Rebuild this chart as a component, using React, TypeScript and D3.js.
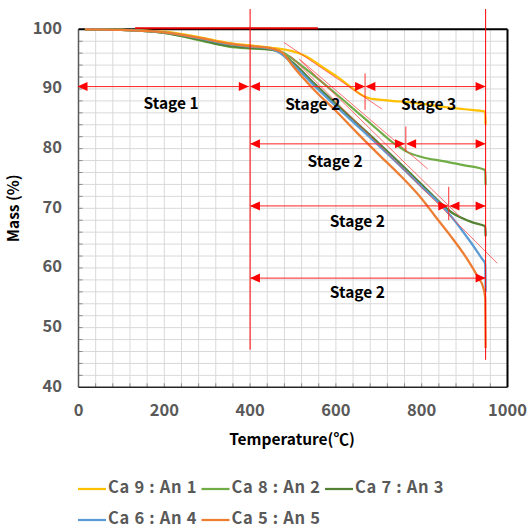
import React from "react";
import * as d3 from "d3";

// ---- data (temperature °C, mass %) ----
const ca9an1: [number, number][] = [
  [15, 100], [100, 99.9], [200, 99.6], [280, 98.7], [350, 97.7], [400, 97.3], [450, 96.9], [480, 96.6],
  [500, 96.3], [530, 95.5], [570, 93.6], [610, 91.7], [640, 90.0], [660, 89.0], [680, 88.4], [700, 88.2],
  [750, 87.9], [800, 87.5], [850, 87.0], [900, 86.6], [948, 86.2], [949, 84.0],
];
const ca8an2: [number, number][] = [
  [15, 100], [100, 99.9], [200, 99.4], [280, 98.2], [350, 97.1], [400, 96.8], [450, 96.6], [480, 96.0],
  [500, 95.0], [550, 92.2], [600, 89.2], [650, 86.1], [700, 83.0], [726, 81.4], [750, 80.2], [765, 79.5],
  [800, 78.6], [850, 77.9], [900, 77.2], [948, 76.4], [949, 73.9],
];
const ca7an3: [number, number][] = [
  [15, 100], [100, 99.9], [200, 99.4], [280, 98.3], [350, 97.2], [400, 96.9], [450, 96.6], [470, 96.1],
  [500, 94.4], [550, 90.9], [600, 87.5], [650, 84.2], [700, 80.9], [750, 77.5], [800, 74.0], [850, 70.5],
  [870, 69.3], [890, 68.5], [920, 67.6], [948, 67.0], [949, 65.3],
];
const ca6an4: [number, number][] = [
  [15, 100], [100, 99.9], [200, 99.5], [280, 98.5], [350, 97.5], [400, 97.1], [450, 96.7], [470, 96.0],
  [500, 94.1], [550, 90.5], [600, 87.1], [650, 83.8], [700, 80.5], [750, 77.1], [800, 73.6], [850, 70.2],
  [893, 66.4], [940, 61.6], [948, 60.7], [949, 56.0],
];
const ca5an5: [number, number][] = [
  [15, 100], [100, 99.9], [200, 99.5], [280, 98.6], [350, 97.6], [400, 97.2], [450, 96.8], [475, 96.1],
  [500, 93.8], [550, 89.8], [600, 86.3], [650, 82.6], [700, 79.0], [750, 75.5], [800, 71.6], [830, 68.8],
  [866, 65.5], [905, 61.6], [930, 58.6], [944, 56.6], [948, 55.0], [949, 46.6],
];

const seriesNames = ["Ca 9 : An 1", "Ca 8 : An 2", "Ca 7 : An 3", "Ca 6 : An 4", "Ca 5 : An 5"];
const seriesColors = ["#FFC000", "#70AD47", "#548235", "#5B9BD5", "#ED7D31"];
const seriesData = [ca9an1, ca8an2, ca7an3, ca6an4, ca5an5];

const xTicks = [0, 200, 400, 600, 800, 1000];
const yTicks = [40, 50, 60, 70, 80, 90, 100];

// stage annotation rows: mass level and arrow segments [from, to]
const stageRows: { m: number; segs: [number, number][] }[] = [
  { m: 90.4, segs: [[0, 397], [402, 668], [671, 949]] },
  { m: 80.8, segs: [[402, 761], [766, 949]] },
  { m: 70.4, segs: [[402, 862], [867, 949]] },
  { m: 58.3, segs: [[402, 949]] },
];
const stageLabels: { t: number; m: number; text: string }[] = [
  { t: 216, m: 87.4, text: "Stage 1" },
  { t: 546, m: 87.2, text: "Stage 2" },
  { t: 816, m: 87.2, text: "Stage 3" },
  { t: 598, m: 77.7, text: "Stage 2" },
  { t: 650, m: 67.5, text: "Stage 2" },
  { t: 650, m: 55.6, text: "Stage 2" },
];
const stageTicks: [number, number, number][] = [
  [668, 92.6, 86.5],
  [763, 83.7, 79.5],
  [863, 73.6, 68.0],
];
const tangents: [number, number, number, number][] = [
  [479, 97.8, 708, 86.6],
  [515, 95.0, 814, 76.6],
  [493, 95.6, 976, 60.8],
  [515, 94.9, 889, 68.6],
];
const boundaryLines: [number, number, number][] = [
  [400, 103.4, 46.3],
  [949, 103.4, 44.6],
];

const W = 529;
const H = 530;

export default function App() {
  const x = d3.scaleLinear().domain([0, 1000]).range([78.5, 507.5]);
  const y = d3.scaleLinear().domain([40, 100]).range([387.3, 29.3]);
  const line = d3
    .line<[number, number]>()
    .x((d) => x(d[0]))
    .y((d) => y(d[1]))
    .curve(d3.curveMonotoneX);

  const vGrid = d3.range(40, 1000, 40);
  const hGrid = d3.range(42, 100, 2);
  const font = "'Noto Sans CJK KR', 'Noto Sans', sans-serif";
  const red = "#FF0000";

  const arrowHead = (tip: number, yy: number, dir: number) => {
    const L = 10, h = 4.5;
    return `M${tip},${yy} L${tip - dir * L},${yy - h} L${tip - dir * L},${yy + h} Z`;
  };

  return (
    <div style={{ position: "absolute", left: 0, top: 0 }}>
      <svg width={W} height={H} style={{ display: "block", background: "#fff" }}>
        {/* grid */}
        {vGrid.map((t) => (
          <line key={"v" + t} x1={x(t)} x2={x(t)} y1={y(100)} y2={y(40)} stroke="#d9d9d9" strokeWidth={1} />
        ))}
        {hGrid.map((m) => (
          <line key={"h" + m} x1={x(0)} x2={x(1000)} y1={y(m)} y2={y(m)} stroke="#d9d9d9" strokeWidth={1} />
        ))}
        {/* minor ticks */}
        {hGrid.map((m) => (
          <line key={"yt" + m} x1={x(0)} x2={x(0) + 4} y1={y(m)} y2={y(m)} stroke="#8c8c8c" strokeWidth={1} />
        ))}
        {vGrid.map((t) => (
          <line key={"xt" + t} x1={x(t)} x2={x(t)} y1={y(40)} y2={y(40) - 4} stroke="#8c8c8c" strokeWidth={1} />
        ))}
        {/* frame */}
        <line x1={x(0)} x2={x(0)} y1={y(100)} y2={y(40)} stroke="#595959" strokeWidth={1.5} />
        <line x1={x(0)} x2={x(1000)} y1={y(40)} y2={y(40)} stroke="#262626" strokeWidth={1.5} />
        <line x1={x(0)} x2={x(1000)} y1={y(100)} y2={y(100)} stroke="#000" strokeWidth={2} />
        <line x1={x(1000)} x2={x(1000)} y1={y(100)} y2={y(40)} stroke="#000" strokeWidth={2} />
        {/* stray red line at top */}
        <line x1={x(132)} x2={x(558)} y1={y(100) - 1} y2={y(100) - 1} stroke="#E00000" strokeWidth={2} />

        {/* series */}
        {seriesData.map((d, i) => (
          <path key={seriesNames[i]} d={line(d) || ""} fill="none" stroke={seriesColors[i]} strokeWidth={2.25} />
        ))}

        {/* tangents */}
        {tangents.map((t, i) => (
          <line key={"tg" + i} x1={x(t[0])} y1={y(t[1])} x2={x(t[2])} y2={y(t[3])} stroke="#FF4040" strokeOpacity={0.75} strokeWidth={1} />
        ))}

        {/* boundary lines */}
        {boundaryLines.map((b, i) => (
          <line key={"b" + i} x1={x(b[0])} x2={x(b[0])} y1={y(b[1])} y2={y(b[2])} stroke={red} strokeWidth={1} />
        ))}
        {stageTicks.map((s, i) => (
          <line key={"st" + i} x1={x(s[0])} x2={x(s[0])} y1={y(s[1])} y2={y(s[2])} stroke="#FF3030" strokeWidth={1} />
        ))}

        {/* arrows */}
        {stageRows.map((r, i) => (
          <g key={"r" + i}>
            {r.segs.map((s, j) => {
              const yy = y(r.m);
              const a = x(s[0]);
              const b = x(s[1]);
              return (
                <g key={j}>
                  <line x1={a} x2={b} y1={yy} y2={yy} stroke="#FF2020" strokeWidth={1} />
                  <path d={arrowHead(a - 1, yy, -1)} fill={red} />
                  <path d={arrowHead(b, yy, 1)} fill={red} />
                </g>
              );
            })}
          </g>
        ))}

        {/* stage labels */}
        {stageLabels.map((s, i) => (
          <text key={"sl" + i} x={x(s.t)} y={y(s.m)} textAnchor="middle" dominantBaseline="middle"
            fontFamily={font} fontWeight="bold" fontSize={15.5} fill="#000">
            {s.text}
          </text>
        ))}

        {/* tick labels */}
        {yTicks.map((m) => (
          <text key={"yl" + m} x={62} y={y(m)} textAnchor="end" dominantBaseline="middle"
            fontFamily={font} fontWeight="bold" fontSize={16.5} fill="#595959">
            {m}
          </text>
        ))}
        {xTicks.map((t) => (
          <text key={"xl" + t} x={x(t)} y={412} textAnchor="middle" dominantBaseline="middle"
            fontFamily={font} fontWeight="bold" fontSize={16.5} fill="#595959">
            {t}
          </text>
        ))}

        {/* axis titles */}
        <text x={292} y={441} textAnchor="middle" dominantBaseline="middle" fontFamily={font}
          fontWeight="bold" fontSize={15.5} fill="#000">
          Temperature(℃)
        </text>
        <text transform={`translate(15,${(y(100) + y(40)) / 2}) rotate(-90)`} textAnchor="middle"
          dominantBaseline="middle" fontFamily={font} fontWeight="bold" fontSize={15.5} fill="#000">
          Mass (%)
        </text>

        {/* legend */}
        {seriesNames.map((n, i) => {
          const col = i % 3;
          const row = Math.floor(i / 3);
          const lx = 78 + col * 123.5;
          const ly = 489 + row * 31;
          return (
            <g key={"lg" + i}>
              <line x1={lx} x2={lx + 28} y1={ly} y2={ly} stroke={seriesColors[i]} strokeWidth={2.25} />
              <text x={lx + 30} y={ly} dominantBaseline="middle" fontFamily={font} fontWeight="bold"
                fontSize={16.5} letterSpacing={0.7} fill="#595959">
                {n}
              </text>
            </g>
          );
        })}
      </svg>
    </div>
  );
}
